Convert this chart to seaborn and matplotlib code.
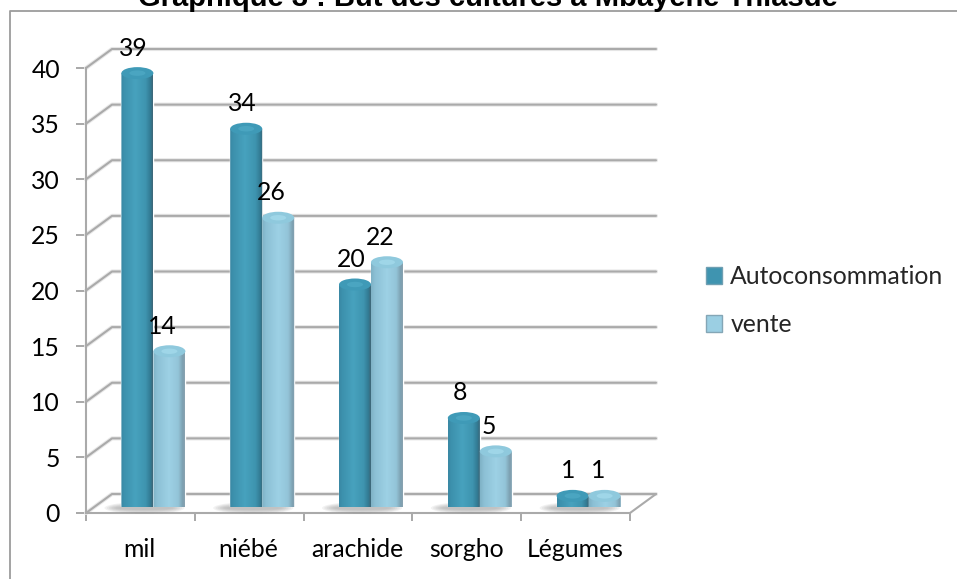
import numpy as np
import pandas as pd
import matplotlib
matplotlib.use("Agg")
import matplotlib.pyplot as plt
import seaborn as sns
from matplotlib.colors import LinearSegmentedColormap
from matplotlib.lines import Line2D
from matplotlib.patches import Ellipse, Patch, PathPatch
from matplotlib.path import Path

categories = ["mil", "niébé", "arachide", "sorgho", "Légumes"]
autoconsommation = [39, 34, 20, 8, 1]
vente = [14, 26, 22, 5, 1]
series_names = ["Autoconsommation", "vente"]
title = "Graphique 3 : But des cultures à Mbayène Thiasdé"

W, H = 957, 579
sns.set_style("white")
plt.rcParams["font.family"] = ["Lato", "DejaVu Sans"]
fig = plt.figure(figsize=(W / 100, H / 100), dpi=100, facecolor="white")


def rect(left, top, right, bottom):
    return [left / W, 1 - bottom / H, (right - left) / W, (bottom - top) / H]


GRID = "#aaaaaa"
TEXT = 17.8
X0, X1, Y0, Y40 = 86, 630, 513, 68
DX, DY = 26, 19          # depth of the floor in pixels
SHIFT_X, SHIFT_Y = 13, 6  # bars stand in the middle of the floor

ax = fig.add_axes(rect(X0, Y40, X1, Y0))
ax.set_xlim(-0.5, 4.5)
ax.set_ylim(0, 40)
ax.patch.set_alpha(0)
ux = (X1 - X0) / 5
uy = (Y0 - Y40) / 40
yticks = np.arange(0, 45, 5)
ddx, ddy = DX / ux, DY / uy

for v in yticks:
    xs = [-0.5, -0.5 + ddx, 4.5 + ddx]
    ys = [v, v + ddy, v + ddy]
    ax.plot(xs, ys, color="#e8e8e8", lw=3.0, clip_on=False, zorder=1,
            solid_joinstyle="round")
    ax.plot(xs, ys, color=GRID, lw=1.5, clip_on=False, zorder=2)
ax.plot([4.5, 4.5 + ddx], [0, ddy], color=GRID, lw=1.5, clip_on=False, zorder=2)

for name in ("top", "right"):
    ax.spines[name].set_visible(False)
for name in ("left", "bottom"):
    ax.spines[name].set_visible(True)
    ax.spines[name].set_color(GRID)
    ax.spines[name].set_linewidth(1.5)
ax.set_yticks(yticks)
ax.set_xticks(np.arange(-0.5, 5, 1))
ax.set_xticklabels([""] * 6)
ax.tick_params(axis="y", left=True, length=7.2, width=1.2, color="#999999", pad=11.5,
               labelsize=TEXT, labelcolor="black")
ax.tick_params(axis="x", bottom=True, length=6, width=1.2, color="#999999")
for i, c in enumerate(categories):
    ax.annotate(c, xy=(i, 0), xycoords="data", xytext=(-0.5, -26),
                textcoords="offset points", ha="center", va="center",
                fontsize=TEXT, color="black", annotation_clip=False)

# bars: same scale as the front plane, moved back onto the floor
bx = fig.add_axes(rect(X0 + SHIFT_X, Y40 - SHIFT_Y, X1 + SHIFT_X, Y0 - SHIFT_Y))
bx.patch.set_alpha(0)

df = pd.DataFrame({
    "categorie": categories * 2,
    "serie": [series_names[0]] * 5 + [series_names[1]] * 5,
    "valeur": autoconsommation + vente,
})
face = {series_names[0]: "#459fbb", series_names[1]: "#9bcfe3"}
sns.barplot(data=df, x="categorie", y="valeur", hue="serie", order=categories,
            hue_order=series_names, palette=face, width=64 / ux, gap=0,
            saturation=1, legend=False, ax=bx, zorder=4)
bx.set_xlim(-0.5, 4.5)
bx.set_ylim(0, 40)
bx.axis("off")

ramps = [
    LinearSegmentedColormap.from_list("a", [(0, "#3a88a3"), (0.08, "#3c90ac"), (0.45, "#47a2be"),
                                            (0.78, "#3e94af"), (0.93, "#327a92"), (1, "#3f6778")]),
    LinearSegmentedColormap.from_list("v", [(0, "#7fb2c6"), (0.12, "#8cc0d5"), (0.5, "#9dd1e5"),
                                            (0.8, "#93c4d8"), (0.94, "#7c9fb0"), (1, "#8aa3b0")]),
]
caps = [("#3f9ab7", "#53aec8"), ("#8fc9dd", "#aadff0")]
label_dx = [-3, -5]
cap_h = 12 / uy
foot_h = 2 / uy

for s, container in enumerate(bx.containers):
    for j, bar in enumerate(container):
        x, w, h = bar.get_x(), bar.get_width(), bar.get_height()
        z = 5 + s * 2
        # soft shadow on the floor
        if s == 0:
            for k in range(6):
                bx.add_patch(Ellipse((x + w * 0.72, -1 / uy), w * (2.5 - 0.14 * k),
                                     (12 - 1.6 * k) / uy, facecolor="#8a8a8a", edgecolor="none",
                                     alpha=0.11, zorder=3, clip_on=False))
        verts = [(x, h), (x, 0), (x + w * 0.2, -foot_h), (x + w * 0.8, -foot_h), (x + w, 0),
                 (x + w, h), (x, h)]
        codes = [Path.MOVETO, Path.LINETO, Path.CURVE4, Path.CURVE4, Path.CURVE4,
                 Path.LINETO, Path.CLOSEPOLY]
        clip = PathPatch(Path(verts, codes), transform=bx.transData, facecolor="none",
                         edgecolor="none")
        bx.add_patch(clip)
        im = bx.imshow(np.linspace(0, 1, 64).reshape(1, -1), cmap=ramps[s], aspect="auto",
                       extent=(x, x + w, -foot_h, h), zorder=z, interpolation="bilinear")
        im.set_clip_path(clip)
        bx.add_patch(Ellipse((x + w / 2, h), w, cap_h, facecolor=caps[s][0], edgecolor="none",
                             zorder=z + 0.2, clip_on=False))
        bx.add_patch(Ellipse((x + w / 2, h), w * 0.5, cap_h * 0.45, facecolor=caps[s][1],
                             edgecolor="none", alpha=0.6, zorder=z + 0.3, clip_on=False))
        bx.annotate(f"{int(h)}", xy=(x + w / 2, h), xytext=(label_dx[s], 18),
                    textcoords="offset points", ha="center", va="center", fontsize=TEXT,
                    color="black", zorder=20, annotation_clip=False)
bx.set_xlim(-0.5, 4.5)
bx.set_ylim(0, 40)

handles = [Patch(facecolor="#3f94b0", edgecolor="#6f9fb2", label=series_names[0]),
           Patch(facecolor="#9bcfe3", edgecolor="#84a6b6", label=series_names[1])]
fig.legend(handles=handles, loc="upper left", bbox_to_anchor=(701 / W, 1 - 260 / H),
           frameon=False, fontsize=TEXT, handlelength=0.66, handleheight=0.66,
           handletextpad=0.33, labelspacing=1.02, borderpad=0.2, borderaxespad=0)

fig.text(488 / W, 1 - 5.5 / H, title, ha="center", va="baseline", fontsize=21,
         fontweight="bold", family=["Liberation Sans"], color="black")

fig.add_artist(Line2D([10 / W, 10 / W, 1], [0, 1 - 11 / H, 1 - 11 / H],
                      transform=fig.transFigure, color="#9c9c9c", lw=1.3))

fig.savefig("out.png", dpi=100, facecolor="white")
